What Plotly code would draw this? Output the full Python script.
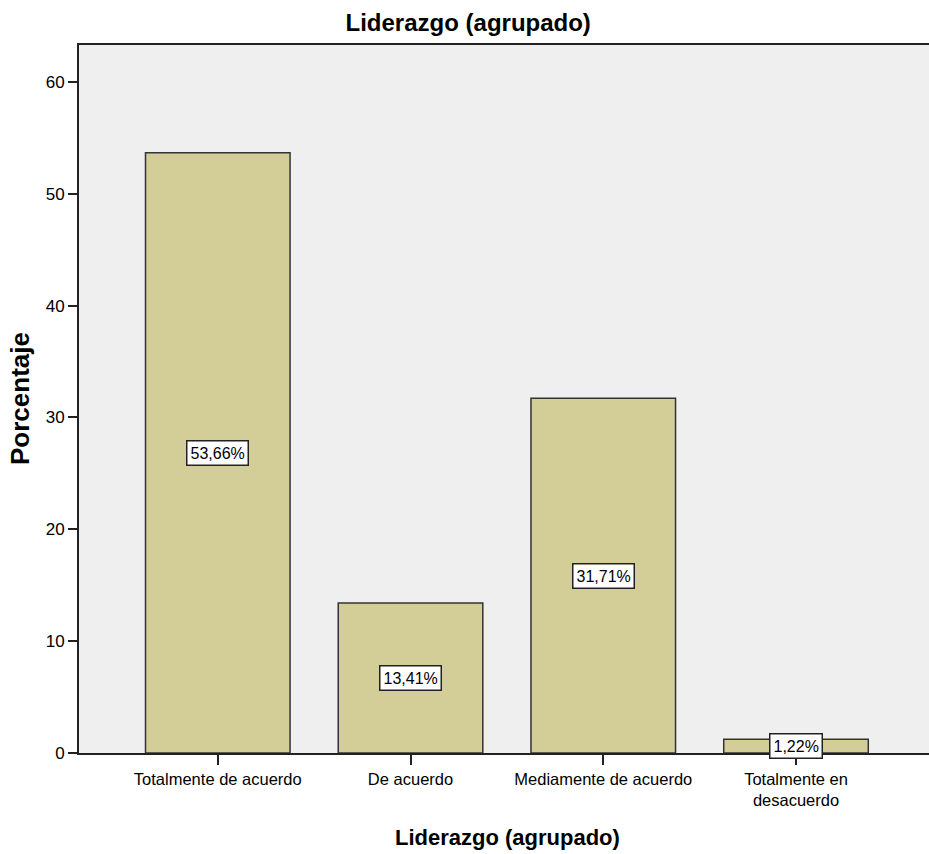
import plotly.graph_objects as go

categories = ["Totalmente de acuerdo", "De acuerdo", "Mediamente de acuerdo", "Totalmente en<br>desacuerdo"]
values = [53.66, 13.41, 31.71, 1.22]
y_ticks = [0, 10, 20, 30, 40, 50, 60]

FONT = "Liberation Sans, Arial, sans-serif"

fig = go.Figure(
    go.Bar(
        x=categories,
        y=values,
        width=0.75,
        marker=dict(color="#d3cd98", line=dict(color="#333333", width=1.5)),
        hoverinfo="skip",
    )
)

for c, v in zip(categories, values):
    fig.add_annotation(
        x=c, y=v / 2, text=f"{v:.2f}%".replace(".", ","),
        showarrow=False, bgcolor="white", bordercolor="#222222", borderwidth=1.5,
        borderpad=3, font=dict(family=FONT, size=16, color="black"),
    )

# axis titles as paper-positioned annotations
fig.add_annotation(
    xref="paper", yref="paper", x=0.504, y=-0.12, xanchor="center", yanchor="middle",
    text="<b>Liderazgo (agrupado)</b>", showarrow=False,
    font=dict(family=FONT, size=22, color="black"),
)
fig.add_annotation(
    xref="paper", yref="paper", x=-0.0694, y=0.5, xanchor="center", yanchor="middle",
    text="<b>Porcentaje</b>", textangle=-90, showarrow=False,
    font=dict(family=FONT, size=26, color="black"),
)

fig.update_layout(
    width=929, height=854,
    margin=dict(l=79, r=0, t=45, b=101, autoexpand=False),
    paper_bgcolor="white", plot_bgcolor="#efefef",
    showlegend=False,
    title=dict(text="<b>Liderazgo (agrupado)</b>", x=0.504, xanchor="center", y=0.974, yanchor="middle",
               font=dict(family=FONT, size=24, color="black")),
)
fig.update_xaxes(
    range=[-0.72, 3.69], showline=True, linecolor="#222222", linewidth=2, mirror=True,
    ticks="outside", ticklen=10, tickwidth=1.5, tickcolor="#222222",
    tickfont=dict(family=FONT, size=16.5, color="black"),
    showgrid=False, fixedrange=True, automargin=False,
)
fig.update_yaxes(
    range=[0, 63.3], tickvals=y_ticks, showline=True, linecolor="#222222", linewidth=2, mirror=True,
    ticks="outside", ticklen=9, tickwidth=1.5, tickcolor="#222222",
    tickfont=dict(family=FONT, size=17, color="black"),
    showgrid=False, zeroline=False, fixedrange=True, automargin=False,
)

fig.write_html(
    "out.html",
    config={"displayModeBar": False},
    post_script="document.body.style.margin='0';document.body.style.overflow='hidden';",
)
